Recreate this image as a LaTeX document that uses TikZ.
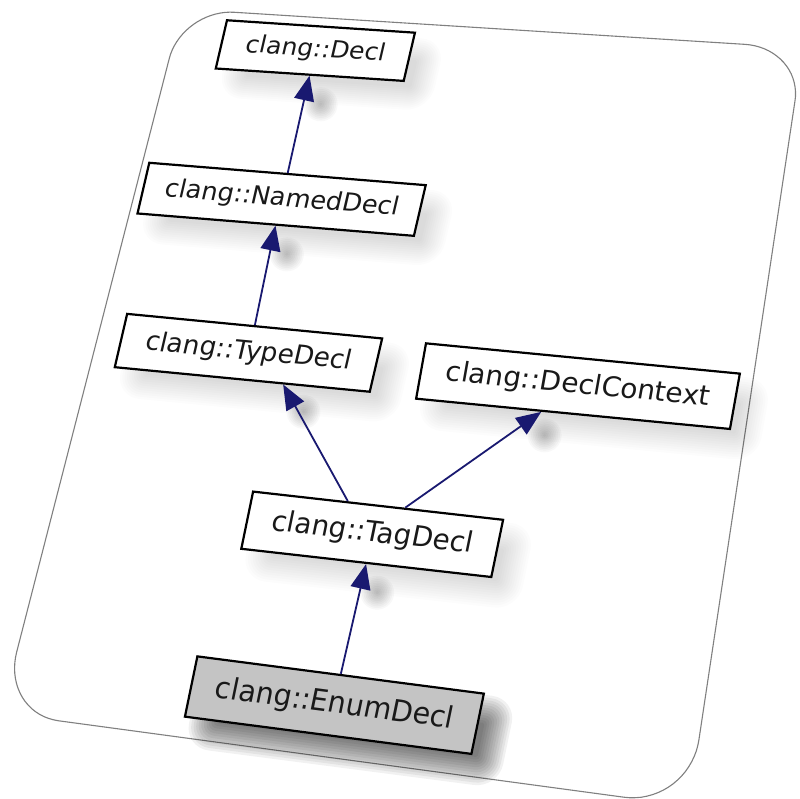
\documentclass[tikz,border=0pt]{standalone}
\usepackage{fontspec}
\newfontfamily\dejavu{DejaVu Sans}
\usetikzlibrary{arrows.meta,calc}

\definecolor{edgeblue}{RGB}{25,25,112}
\definecolor{currentfill}{RGB}{196,196,196}
\definecolor{cardrim}{RGB}{128,128,128}
\definecolor{labeltext}{RGB}{25,25,25}

% Projective map of the tilted card.
% Local card coordinates (U,V) lie in [0,655]x[0,743], V pointing down.
\def\Ha{574.34}\def\Hb{-181.107}\def\Hc{182}
\def\Hd{36.211}\def\He{627.70}\def\Hf{9}
\def\Hg{-0.05811}\def\Hh{-0.10701}

% \cardmap{U}{V}: image point (\kX,\kY) and local Jacobian (\kA,\kB,\kC,\kD)
\newcommand\cardmap[2]{%
  \pgfmathsetmacro\kU{(#1)/655}%
  \pgfmathsetmacro\kV{(#2)/743}%
  \pgfmathsetmacro\kW{(\Hg)*\kU+(\Hh)*\kV+1}%
  \pgfmathsetmacro\kX{((\Ha)*\kU+(\Hb)*\kV+(\Hc))/\kW}%
  \pgfmathsetmacro\kY{((\Hd)*\kU+(\He)*\kV+(\Hf))/\kW}%
  \pgfmathsetmacro\kA{((\Ha)-(\Hg)*\kX)/(\kW*655)}%
  \pgfmathsetmacro\kB{-((\Hd)-(\Hg)*\kY)/(\kW*655)}%
  \pgfmathsetmacro\kC{-((\Hb)-(\Hh)*\kX)/(\kW*743)}%
  \pgfmathsetmacro\kD{((\He)-(\Hh)*\kY)/(\kW*743)}%
}

\pgfkeys{/cardcs/.cd, U/.store in=\cardU, V/.store in=\cardV}
\tikzdeclarecoordinatesystem{card}{%
  \pgfkeys{/cardcs/.cd,#1}%
  \cardmap{\cardU}{\cardV}%
  \pgfpoint{\kX pt}{-\kY pt}%
}

\pgfdeclarelayer{cardlayer}
\pgfdeclarelayer{shadowlayer}
\pgfsetlayers{cardlayer,shadowlayer,main}

\tikzset{
  classbox/.style={rectangle, draw=black, line width=2.2pt, fill=white,
    inner sep=0pt, minimum height=55.5pt, text=labeltext,
    text height=20.5pt, text depth=6.5pt,
    font=\dejavu\fontsize{27}{32}\selectfont},
  currentbox/.style={classbox, fill=currentfill},
  inherit/.style={draw=edgeblue, line width=1.8pt,
    -{Triangle[length=25pt,width=20pt,fill=edgeblue]}},
  cardedge/.style={draw=cardrim, line width=1.1pt, fill=white, line join=round},
  softshade/.style={fill=black, opacity=#1},
}

% \classnode{style}{name}{U}{V}{width}{shadow opacity}{label}
\newcommand\classnode[7]{%
  \cardmap{#3}{#4}%
  \begin{pgfonlayer}{shadowlayer}
    \begin{scope}[shift={(\kX+16,-\kY-18)}, cm={\kA,\kB,\kC,\kD,(0,0)}]
      \foreach \s in {0,...,11}{%
        \pgfmathsetmacro\shG{-12+2.3*\s}%
        \pgfmathsetmacro\shR{max(1,0.9*(\shG+14))}%
        \fill[softshade=#6, rounded corners=\shR pt]
          ({-(#5)/2-(\shG)},{-27.75-(\shG)}) rectangle ({(#5)/2+(\shG)},{27.75+(\shG)});
      }
    \end{scope}
  \end{pgfonlayer}
  \node[#1, minimum width=#5pt, cm={\kA,\kB,\kC,\kD,(0,0)}] (#2) at (\kX,-\kY) {#7};
}

% blurred spot under an arrow head
\newcommand\tipshadow[1]{%
  \begin{pgfonlayer}{shadowlayer}
    \foreach \s in {1,...,10}{\fill[softshade=0.028] #1 circle[radius=1.7*\s];}
  \end{pgfonlayer}
}

\begin{document}
\begin{tikzpicture}[x=1pt,y=1pt]
\useasboundingbox (0,0) rectangle (799,-799);

% the card
\begin{pgfonlayer}{cardlayer}
  \fill[white] (0,0) rectangle (799,-799);
  \draw[cardedge] (card cs:U=58,V=0)
    -- (card cs:U=597,V=0)
    \foreach \t in {5,10,...,90} { -- (card cs:U={597+58*sin(\t)},V={58-58*cos(\t)}) }
    -- (card cs:U=655,V=685)
    \foreach \t in {5,10,...,90} { -- (card cs:U={597+58*cos(\t)},V={685+58*sin(\t)}) }
    -- (card cs:U=58,V=743)
    \foreach \t in {5,10,...,90} { -- (card cs:U={58-58*sin(\t)},V={685+58*cos(\t)}) }
    -- (card cs:U=0,V=58)
    \foreach \t in {5,10,...,90} { -- (card cs:U={58-58*cos(\t)},V={58-58*sin(\t)}) }
    -- cycle;
\end{pgfonlayer}

% classes
\classnode{classbox}{decl}{155.7}{37.9}{203.7}{0.011}{clang::Decl}
\classnode{classbox}{named}{156.6}{204.8}{293.2}{0.011}{clang::NamedDecl}
\classnode{classbox}{type}{159.2}{368.5}{264.6}{0.011}{clang::TypeDecl}
\classnode{classbox}{ctx}{490.7}{370.1}{305.4}{0.011}{clang::DeclContext}
\classnode{classbox}{tag}{320.7}{534.2}{245.8}{0.011}{clang::TagDecl}
\classnode{currentbox}{enum}{318.3}{696.0}{275.4}{0.055}{clang::EnumDecl}

% attachment points of the two slanted edges
\coordinate (tagL)  at ($(tag.north west)!0.379!(tag.north east)$);
\coordinate (tagR)  at ($(tag.north west)!0.607!(tag.north east)$);
\coordinate (typeR) at ($(type.south west)!0.66!(type.south east)$);
\coordinate (ctxL)  at ($(ctx.south west)!0.40!(ctx.south east)$);

% inheritance edges
\draw[inherit] (named.north) -- (decl.south);
\draw[inherit] (type.north) -- (named.south);
\draw[inherit] (tagL) -- (typeR);
\draw[inherit] (tagR) -- (ctxL);
\draw[inherit] (enum.north) -- (tag.south);

% shadows of the arrow heads
\tipshadow{($(decl.south)!13pt!(named.north)+(14,-16)$)}
\tipshadow{($(named.south)!13pt!(type.north)+(14,-16)$)}
\tipshadow{($(typeR)!13pt!(tagL)+(14,-16)$)}
\tipshadow{($(ctxL)!13pt!(tagR)+(14,-16)$)}
\tipshadow{($(tag.south)!13pt!(enum.north)+(14,-16)$)}
\end{tikzpicture}
\end{document}
